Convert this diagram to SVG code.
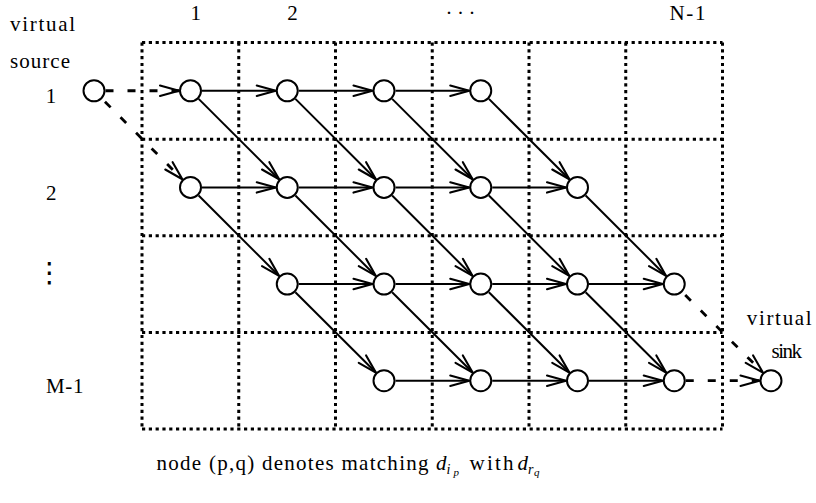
<svg xmlns="http://www.w3.org/2000/svg" width="816" height="503" viewBox="0 0 816 503">
<style>
.t{font-family:"Liberation Serif","DejaVu Serif",serif;font-size:21px;fill:#000}
.ti{font-family:"Liberation Serif","DejaVu Serif",serif;font-style:italic;fill:#000}
.grid line{stroke:#000;stroke-width:3;stroke-dasharray:3.2,3.6;fill:none}
.e{stroke:#000;stroke-width:2;fill:none;marker-end:url(#ah)}
.d{stroke:#000;stroke-width:2.8;fill:none;stroke-dasharray:8,14;marker-end:url(#ah)}
.dd{stroke-dashoffset:18}
.n circle{fill:#fff;stroke:#000;stroke-width:2}
</style>
<defs>
<marker id="ah" markerUnits="userSpaceOnUse" viewBox="-25 -10 30 20" markerWidth="30" markerHeight="20" refX="0" refY="0" orient="auto">
<path d="M-19,-5.2 L0,0 L-19,5.2" fill="none" stroke="#000" stroke-width="2.1" stroke-dasharray="none" stroke-linejoin="round" stroke-linecap="round"/>
</marker>
</defs>
<rect width="816" height="503" fill="#fff"/>
<g id="grid" class="grid">
<line x1="142" y1="42.5" x2="142" y2="429"/>
<line x1="238.75" y1="42.5" x2="238.75" y2="429"/>
<line x1="335.5" y1="42.5" x2="335.5" y2="429"/>
<line x1="432.25" y1="42.5" x2="432.25" y2="429"/>
<line x1="529" y1="42.5" x2="529" y2="429"/>
<line x1="625.75" y1="42.5" x2="625.75" y2="429"/>
<line x1="722.5" y1="42.5" x2="722.5" y2="429"/>
<line x1="142" y1="42.5" x2="722.5" y2="42.5"/>
<line x1="142" y1="139.2" x2="722.5" y2="139.2"/>
<line x1="142" y1="235.8" x2="722.5" y2="235.8"/>
<line x1="142" y1="332.5" x2="722.5" y2="332.5"/>
<line x1="142" y1="429" x2="722.5" y2="429"/>
</g>
<g id="connectors">
<line class="e" x1="202" y1="90.75" x2="275.75" y2="90.75"/>
<line class="e" x1="298.75" y1="90.75" x2="372.5" y2="90.75"/>
<line class="e" x1="395.5" y1="90.75" x2="469.25" y2="90.75"/>
<line class="e" x1="202" y1="187.4" x2="275.75" y2="187.4"/>
<line class="e" x1="298.75" y1="187.4" x2="372.5" y2="187.4"/>
<line class="e" x1="395.5" y1="187.4" x2="469.25" y2="187.4"/>
<line class="e" x1="492.25" y1="187.4" x2="566" y2="187.4"/>
<line class="e" x1="298.75" y1="284.05" x2="372.5" y2="284.05"/>
<line class="e" x1="395.5" y1="284.05" x2="469.25" y2="284.05"/>
<line class="e" x1="492.25" y1="284.05" x2="566" y2="284.05"/>
<line class="e" x1="589" y1="284.05" x2="662.75" y2="284.05"/>
<line class="e" x1="395.5" y1="380.7" x2="469.25" y2="380.7"/>
<line class="e" x1="492.25" y1="380.7" x2="566" y2="380.7"/>
<line class="e" x1="589" y1="380.7" x2="662.75" y2="380.7"/>
<line class="e" x1="198.63" y1="98.88" x2="279.12" y2="179.27"/>
<line class="e" x1="295.38" y1="98.88" x2="375.87" y2="179.27"/>
<line class="e" x1="392.13" y1="98.88" x2="472.62" y2="179.27"/>
<line class="e" x1="488.88" y1="98.88" x2="569.37" y2="179.27"/>
<line class="e" x1="198.63" y1="195.53" x2="279.12" y2="275.92"/>
<line class="e" x1="295.38" y1="195.53" x2="375.87" y2="275.92"/>
<line class="e" x1="392.13" y1="195.53" x2="472.62" y2="275.92"/>
<line class="e" x1="488.88" y1="195.53" x2="569.37" y2="275.92"/>
<line class="e" x1="585.63" y1="195.53" x2="666.12" y2="275.92"/>
<line class="e" x1="295.38" y1="292.18" x2="375.87" y2="372.57"/>
<line class="e" x1="392.13" y1="292.18" x2="472.62" y2="372.57"/>
<line class="e" x1="488.88" y1="292.18" x2="569.37" y2="372.57"/>
<line class="e" x1="585.63" y1="292.18" x2="666.12" y2="372.57"/>
<line class="d" x1="105.5" y1="90.75" x2="179" y2="90.75"/>
<line class="d dd" x1="102.13" y1="98.88" x2="182.37" y2="179.27"/>
<line class="d dd" x1="682.38" y1="292.18" x2="762.87" y2="372.57"/>
<line class="d" x1="685.75" y1="380.7" x2="759.5" y2="380.7"/>
</g>
<g id="source" class="n"><circle cx="94" cy="90.75" r="10.5"/></g>
<g id="n1-1" class="n"><circle cx="190.5" cy="90.75" r="10.5"/></g>
<g id="n1-2" class="n"><circle cx="287.25" cy="90.75" r="10.5"/></g>
<g id="n1-3" class="n"><circle cx="384" cy="90.75" r="10.5"/></g>
<g id="n1-4" class="n"><circle cx="480.75" cy="90.75" r="10.5"/></g>
<g id="n2-1" class="n"><circle cx="190.5" cy="187.4" r="10.5"/></g>
<g id="n2-2" class="n"><circle cx="287.25" cy="187.4" r="10.5"/></g>
<g id="n2-3" class="n"><circle cx="384" cy="187.4" r="10.5"/></g>
<g id="n2-4" class="n"><circle cx="480.75" cy="187.4" r="10.5"/></g>
<g id="n2-5" class="n"><circle cx="577.5" cy="187.4" r="10.5"/></g>
<g id="n3-2" class="n"><circle cx="287.25" cy="284.05" r="10.5"/></g>
<g id="n3-3" class="n"><circle cx="384" cy="284.05" r="10.5"/></g>
<g id="n3-4" class="n"><circle cx="480.75" cy="284.05" r="10.5"/></g>
<g id="n3-5" class="n"><circle cx="577.5" cy="284.05" r="10.5"/></g>
<g id="n3-6" class="n"><circle cx="674.25" cy="284.05" r="10.5"/></g>
<g id="n4-3" class="n"><circle cx="384" cy="380.7" r="10.5"/></g>
<g id="n4-4" class="n"><circle cx="480.75" cy="380.7" r="10.5"/></g>
<g id="n4-5" class="n"><circle cx="577.5" cy="380.7" r="10.5"/></g>
<g id="n4-6" class="n"><circle cx="674.25" cy="380.7" r="10.5"/></g>
<g id="sink" class="n"><circle cx="771" cy="380.7" r="10.5"/></g>
<g id="labels">
<text class="t" x="10" y="31" textLength="65" lengthAdjust="spacing">virtual</text>
<text class="t" x="10" y="68" textLength="60" lengthAdjust="spacing">source</text>
<text class="t" x="51" y="103" text-anchor="middle">1</text>
<text class="t" x="51.3" y="200" text-anchor="middle">2</text>
<text x="49.5" y="282" text-anchor="middle" font-family="DejaVu Sans, sans-serif" font-size="28" fill="#000">⋮</text>
<text class="t" x="46" y="393" textLength="37.5" lengthAdjust="spacing">M-1</text>
<text class="t" x="195.8" y="20" text-anchor="middle">1</text>
<text class="t" x="292.5" y="20" text-anchor="middle">2</text>
<text class="t" x="445.5 457 468.5" y="19.5">···</text>
<text class="t" x="669.5" y="20" textLength="36" lengthAdjust="spacing">N-1</text>
<text class="t" x="746.7" y="325" textLength="65" lengthAdjust="spacing">virtual</text>
<text class="t" x="771.5" y="358" textLength="30.5" lengthAdjust="spacing">sink</text>
<text class="t" x="156.5" y="470" textLength="272" lengthAdjust="spacing">node (p,q) denotes matching</text>
<text class="ti" x="436" y="470" font-size="21">d</text>
<text class="ti" x="446.5" y="473.5" font-size="14">i</text>
<text class="ti" x="453.5" y="475.5" font-size="11">p</text>
<text class="t" x="469.5" y="470" textLength="44" lengthAdjust="spacing">with</text>
<text class="ti" x="517.5" y="470" font-size="21">d</text>
<text class="ti" x="528" y="473.5" font-size="14">r</text>
<text class="ti" x="534" y="475.5" font-size="11">q</text>
</g>
</svg>
